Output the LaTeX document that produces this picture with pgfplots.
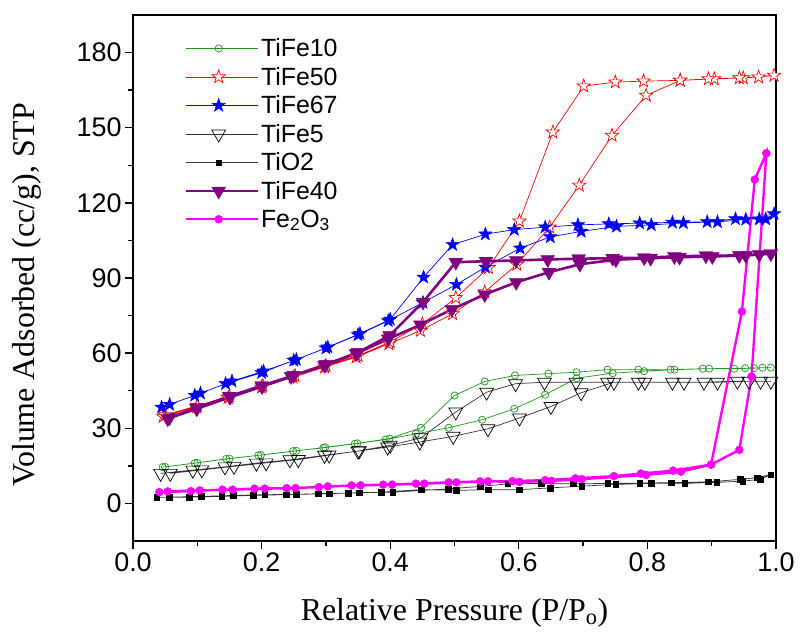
\documentclass[border=0pt]{standalone}
\usepackage{fontspec}
\setmainfont{Liberation Serif}
\newfontfamily\arial{Liberation Sans}
\usepackage{pgfplots}
\pgfplotsset{compat=1.18}
\definecolor{mygreen}{RGB}{30,150,30}
\definecolor{mypurple}{RGB}{128,0,128}
\definecolor{mymag}{RGB}{255,0,255}
\pgfdeclareplotmark{fivestar}{%
  \pgfpathmoveto{\pgfpointpolar{90}{\pgfplotmarksize}}%
  \pgfpathlineto{\pgfpointpolar{126}{0.40*\pgfplotmarksize}}%
  \pgfpathlineto{\pgfpointpolar{162}{\pgfplotmarksize}}%
  \pgfpathlineto{\pgfpointpolar{198}{0.40*\pgfplotmarksize}}%
  \pgfpathlineto{\pgfpointpolar{234}{\pgfplotmarksize}}%
  \pgfpathlineto{\pgfpointpolar{270}{0.40*\pgfplotmarksize}}%
  \pgfpathlineto{\pgfpointpolar{306}{\pgfplotmarksize}}%
  \pgfpathlineto{\pgfpointpolar{342}{0.40*\pgfplotmarksize}}%
  \pgfpathlineto{\pgfpointpolar{18}{\pgfplotmarksize}}%
  \pgfpathlineto{\pgfpointpolar{54}{0.40*\pgfplotmarksize}}%
  \pgfpathclose
  \pgfusepathqfillstroke}
\begin{document}
\begin{tikzpicture}
\begin{axis}[
  scale only axis, width=643bp, height=526bp,
  xmin=0, xmax=1, ymin=-15, ymax=195,
  xtick={0,0.2,0.4,0.6,0.8,1}, minor xtick={0.1,0.3,0.5,0.7,0.9},
  ytick={0,30,60,90,120,150,180}, minor ytick={15,45,75,105,135,165},
  xtick pos=bottom, ytick pos=left, tick align=outside,
  major tick length=8bp, minor tick length=5bp,
  every tick/.style={black, line width=1.3bp},
  axis line style={line width=1.6bp},
  ticklabel style={font=\arial\fontsize{27}{27}\selectfont},
  /pgf/number format/assume math mode=true,
  xticklabel style={/pgf/number format/.cd, fixed, fixed zerofill, precision=1},
  label style={font=\fontsize{32}{32}\selectfont},
  xlabel={Relative Pressure (P/P\textsubscript{o})},
  ylabel={Volume Adsorbed (cc/g), STP},
  xlabel style={at={(axis description cs:0.5,-0.137)}, anchor=center},
  ylabel style={at={(axis description cs:-0.165,0.468)}, anchor=center},
  legend image code/.code={%
    \draw[#1, mark=none] (0bp,0bp) -- (72bp,0bp);
    \draw[#1, only marks] plot coordinates {(33bp,0bp)};},
  legend style={at={(0.075,0.963)}, anchor=north west, draw=none, fill=none,
    font=\arial\fontsize{25}{25}\selectfont, row sep=5bp},
  legend cell align=left,
]
% TiFe10
\addplot[color=mygreen, line width=0.7bp, mark=o, mark size=3.6bp, mark options={solid, line width=0.7bp}] coordinates {
(0.046,14.5)(0.096,16.1)(0.145,17.8)(0.195,19.2)(0.249,20.9)(0.296,22.2)(0.345,23.8)(0.393,25.5)(0.44,27.8)(0.491,30.2)(0.543,33.4)(0.593,37.8)(0.641,43.4)(0.69,50.0)(0.746,52.0)(0.795,52.8)(0.842,53.4)(0.896,53.8)(0.952,54.0)(0.992,54.2)
(0.979,54.2)(0.966,54.0)(0.935,53.8)(0.886,53.8)(0.836,53.4)(0.786,53.4)(0.738,53.4)(0.69,52.4)(0.646,51.8)(0.594,51.1)(0.547,48.7)(0.5,43.1)(0.448,30.2)(0.399,25.9)(0.349,24.0)(0.299,22.4)(0.254,21.0)(0.199,19.3)(0.15,17.9)(0.1,16.2)(0.05,14.6)
};
\addlegendentry{TiFe10}
% TiFe50
\addplot[color=red, line width=0.7bp, mark=fivestar, mark size=7bp, mark options={solid, fill=white, line width=0.7bp}] coordinates {
(0.047,34.7)(0.099,38.5)(0.148,42.2)(0.2,46.4)(0.249,50.4)(0.298,54.4)(0.347,58.4)(0.398,63.7)(0.447,69.0)(0.497,75.7)(0.547,84.4)(0.597,95.4)(0.648,110.3)(0.694,127.0)(0.745,146.9)(0.798,162.9)(0.851,168.9)(0.904,169.5)(0.949,169.9)(0.997,170.9)
(0.973,170.2)(0.943,169.9)(0.895,169.5)(0.851,168.9)(0.794,168.6)(0.75,168.2)(0.701,166.6)(0.653,148.2)(0.601,112.7)(0.553,94.1)(0.502,82.1)(0.45,71.7)(0.4,64.5)(0.35,59.0)(0.3,55.0)(0.252,51.0)(0.202,47.0)(0.15,42.8)(0.1,39.0)(0.05,35.3)
};
\addlegendentry{TiFe50}
% TiFe67
\addplot[color=blue, line width=0.7bp, mark=fivestar, mark size=7bp, mark options={solid, fill=blue, line width=0.5bp}] coordinates {
(0.0445,38.4)(0.096,43.1)(0.144,47.8)(0.2,52.2)(0.25,57.1)(0.3,62.0)(0.35,67.3)(0.397,72.9)(0.451,80.2)(0.503,87.4)(0.548,94.3)(0.602,101.9)(0.649,106.4)(0.697,108.6)(0.752,110.6)(0.806,111.2)(0.856,112.0)(0.909,112.4)(0.953,113.4)(0.997,115.6)
(0.984,113.5)(0.974,113.5)(0.937,113.6)(0.893,112.4)(0.839,112.2)(0.788,111.9)(0.74,111.6)(0.692,111.2)(0.641,110.3)(0.593,109.3)(0.548,107.5)(0.497,103.3)(0.452,90.3)(0.4,73.5)(0.353,67.8)(0.303,62.4)(0.254,57.4)(0.203,52.8)(0.154,48.8)(0.105,44.0)(0.057,39.5)
};
\addlegendentry{TiFe67}
% TiFe5
\addplot[color=black!80, line width=0.7bp, mark=triangle, mark size=8bp, mark options={solid, black, fill=white, rotate=180, line width=0.7bp}] coordinates {
(0.043,12.0)(0.093,13.3)(0.143,14.6)(0.192,16.1)(0.244,17.4)(0.298,19.2)(0.35,20.9)(0.396,22.5)(0.446,24.5)(0.498,26.8)(0.552,29.8)(0.601,34.1)(0.65,38.7)(0.697,44.2)(0.748,48.4)(0.796,48.4)(0.857,48.4)(0.909,48.4)(0.958,48.8)(0.992,48.8)
(0.976,48.8)(0.94,48.8)(0.888,48.4)(0.839,48.4)(0.786,48.4)(0.738,48.4)(0.689,48.4)(0.64,48.4)(0.595,47.8)(0.55,44.4)(0.502,36.5)(0.448,26.2)(0.4,23.2)(0.352,21.0)(0.305,19.3)(0.257,17.5)(0.207,16.2)(0.157,14.8)(0.107,13.4)(0.058,12.0)
};
\addlegendentry{TiFe5}
% TiO2
\addplot[color=black!80, line width=0.7bp, mark=square*, mark size=2.8bp, mark options={solid, black, line width=0.4bp}] coordinates {
(0.037,2.5)(0.087,2.5)(0.138,2.8)(0.187,3.2)(0.238,3.5)(0.288,3.9)(0.335,4.1)(0.386,4.5)(0.448,5.5)(0.503,5.2)(0.552,5.5)(0.601,5.5)(0.649,6.2)(0.698,6.9)(0.751,7.6)(0.806,8.0)(0.858,8.0)(0.908,8.4)(0.948,8.9)(0.975,9.6)(0.992,11.5)
(0.971,10.3)(0.944,9.6)(0.895,8.6)(0.837,8.3)(0.788,8.1)(0.738,8.0)(0.685,7.8)(0.635,8.0)(0.583,7.8)(0.54,6.8)(0.49,5.8)(0.404,4.5)(0.352,4.3)(0.305,3.9)(0.254,3.6)(0.205,3.5)(0.156,3.2)(0.106,2.8)(0.056,2.5)
};
\addlegendentry{TiO2}
% TiFe40
\addplot[color=mypurple, line width=2.6bp, mark=triangle*, mark size=8bp, mark options={solid, rotate=180, line width=0.4bp}] coordinates {
(0.054,33.8)(0.099,37.8)(0.151,42.4)(0.201,46.7)(0.246,50.7)(0.298,55.1)(0.347,59.8)(0.397,65.7)(0.447,71.3)(0.496,77.5)(0.547,83.4)(0.596,88.3)(0.647,92.3)(0.695,95.5)(0.751,97.3)(0.805,97.9)(0.85,98.3)(0.901,98.6)(0.953,99.0)(0.992,99.7)
(0.974,99.4)(0.943,99.0)(0.891,98.9)(0.842,98.6)(0.795,98.1)(0.746,97.9)(0.693,97.7)(0.645,97.4)(0.596,97.0)(0.549,96.7)(0.502,96.3)(0.451,80.4)(0.399,67.0)(0.35,60.3)(0.3,55.5)(0.25,51.1)(0.2,47.0)(0.15,42.8)(0.1,38.2)(0.057,34.3)
};
\addlegendentry{TiFe40}
% Fe2O3
\addplot[color=mymag, line width=2.4bp, mark=*, mark size=4bp, mark options={solid, line width=0.4bp}] coordinates {
(0.041,4.5)(0.09,4.9)(0.139,5.5)(0.189,5.9)(0.239,6.1)(0.289,6.5)(0.34,7.2)(0.389,7.5)(0.44,7.9)(0.491,8.4)(0.54,8.8)(0.59,8.9)(0.641,9.3)(0.688,10.0)(0.748,10.9)(0.79,11.9)(0.84,13.1)(0.899,15.5)(0.947,76.6)(0.967,129.3)(0.985,139.8)
(0.962,50.7)(0.943,21.4)(0.899,15.5)(0.852,12.7)(0.798,11.4)(0.698,9.7)(0.651,9.0)(0.601,8.6)(0.552,8.8)(0.503,8.4)(0.453,7.9)(0.403,7.5)(0.354,7.2)(0.303,6.8)(0.253,6.1)(0.205,5.9)(0.155,5.5)(0.104,5.2)(0.054,4.8)
};
\addlegendentry{Fe\textsubscript{2}O\textsubscript{3}}
\end{axis}
\pgfresetboundingbox
\path[use as bounding box] (-133bp,-100bp) rectangle (671bp,541bp);
\end{tikzpicture}
\end{document}
